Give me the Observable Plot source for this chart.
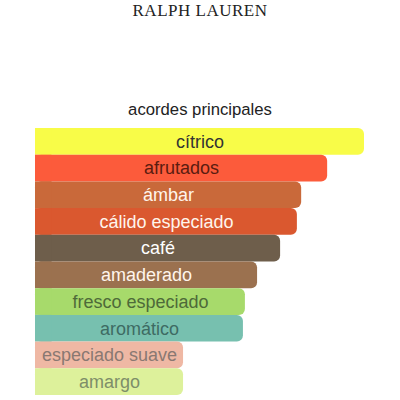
<!DOCTYPE html>
<html><head><meta charset="utf-8">
<script src="https://cdn.jsdelivr.net/npm/d3@7"></script>
<script src="https://cdn.jsdelivr.net/npm/@observablehq/plot@0.6"></script>
<style>
body{margin:0;background:#fff;width:400px;height:400px;overflow:hidden;position:relative}
#brand{position:absolute;top:1px;left:0;width:400px;text-align:center;font-family:"Liberation Serif","DejaVu Serif",serif;font-size:17px;letter-spacing:0.5px;color:#222}
#title{position:absolute;top:100px;left:0;width:400px;text-align:center;font-family:"Liberation Sans",Arial,sans-serif;font-size:16.7px;color:#222}
#chart{position:absolute;top:126px;left:0}
#chart svg{display:block}
</style></head>
<body>
<div id="brand">RALPH LAUREN</div>
<div id="title">acordes principales</div>
<div id="chart"></div>
<script>
const accords = ["cítrico","afrutados","ámbar","cálido especiado","café","amaderado","fresco especiado","aromático","especiado suave","amargo"];
const values = [100, 88.8, 80.9, 79.6, 74.5, 67.5, 63.8, 63.2, 45, 45];
const barColors = ["#F8FC48","#FC5B3B","#C9693A","#DA582F","#6E5E4B","#9B714F","#A7DA6B","#77C0AF","#EFB8A4","#DDF19B"];
const textColors = ["#333333","#5A1C10","#FFF5EC","#FFF5EC","#FFFFFF","#FFF5EC","#4E6A39","#3E6B63","#8A7872","#7E8E69"];

const data = accords.map((name, i) => ({name, value: values[i], color: barColors[i], tc: textColors[i]}));

const chart = Plot.plot({
  width: 400,
  height: 274,
  marginTop: 2,
  marginBottom: 5,
  marginLeft: 35,
  marginRight: 36,
  x: {domain: [0, 100], axis: null},
  y: {domain: accords, axis: null, padding: 0, round: false},
  color: {type: "identity"},
  style: {background: "transparent"},
  marks: [
    Plot.barX(data, {x: "value", y: "name", fill: "color", rx: 6}),
    Plot.barX(data, {x1: 0, x2: 5, y: "name", fill: "color"}),
    Plot.text(data, {x: d => d.value / 2, y: "name", text: "name", fill: "tc", fontSize: 18, fontFamily: "Liberation Sans, Arial, sans-serif"})
  ]
});
document.getElementById("chart").appendChild(chart);
</script>
</body></html>
